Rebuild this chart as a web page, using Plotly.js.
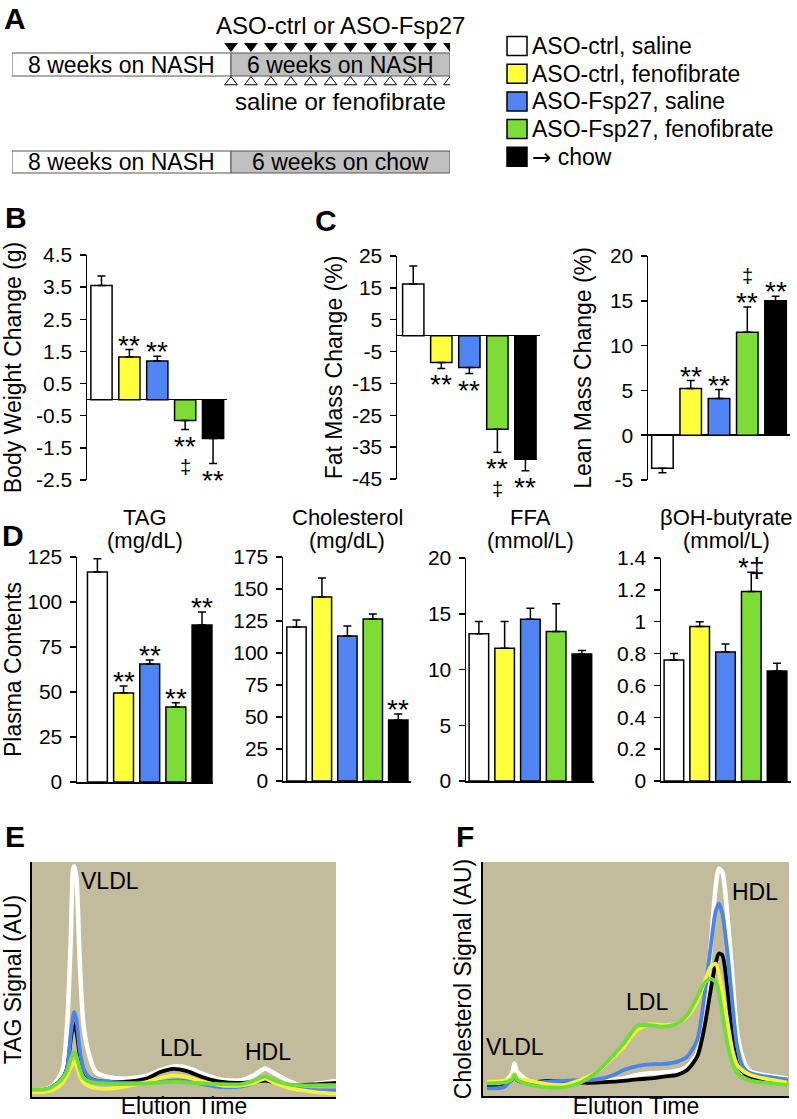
<!DOCTYPE html>
<html><head><meta charset="utf-8">
<script src="https://cdn.plot.ly/plotly-3.0.1.min.js"></script>
<style>html,body{margin:0;padding:0;background:#fff}#chart{width:797px;height:1119px}</style>
</head><body><div id="chart"></div>
<script>
// ---------- DATA ----------
const groups = ['ASO-ctrl, saline', 'ASO-ctrl, fenofibrate', 'ASO-Fsp27, saline', 'ASO-Fsp27, fenofibrate', '<span style="font-family:DejaVu Sans">\u2192</span> chow'];
const barColors = ['#ffffff', '#ffff3c', '#4f84f2', '#7ddc36', '#000000'];
const lineColors = ['#ffffff', '#f4f23a', '#4a86e8', '#6fdc3a', '#000000'];

// Panel A schematic
const stageRow1 = ['8 weeks on NASH', '6 weeks on NASH'];
const stageRow2 = ['8 weeks on NASH', '6 weeks on chow'];
const injectionCount = 12;
const injectionTop = 'ASO-ctrl or ASO-Fsp27';
const injectionBottom = 'saline or fenofibrate';

// Panel B
const bodyWeight = [3.55, 1.33, 1.2, -0.65, -1.21];
const bodyWeightErr = [0.3, 0.23, 0.15, 0.28, 0.78];
const bodyWeightSig = ['', '**', '**', '**', '**'];
const bodyWeightDag = ['', '', '', '\u2021', ''];
const bodyWeightTicks = [4.5, 3.5, 2.5, 1.5, 0.5, -0.5, -1.5, -2.5];

// Panel C
const fatMass = [16.2, -8.4, -10.0, -29.4, -38.8];
const fatMassErr = [5.7, 1.9, 1.9, 7.2, 3.6];
const fatMassSig = ['', '**', '**', '**', '**'];
const fatMassDag = ['', '', '', '\u2021', ''];
const fatMassTicks = [25, 15, 5, -5, -15, -25, -35, -45];

const leanMass = [-3.7, 5.2, 4.1, 11.5, 15.0];
const leanMassErr = [0.5, 0.9, 1.0, 2.8, 0.5];
const leanMassSig = ['', '**', '**', '**', '**'];
const leanMassDag = ['', '', '', '\u2021', ''];
const leanMassTicks = [20, 15, 10, 5, 0, -5];

// Panel D
const plasmaNames = ['TAG', 'Cholesterol', 'FFA', '\u03b2OH-butyrate'];
const plasmaUnits = ['(mg/dL)', '(mg/dL)', '(mmol/L)', '(mmol/L)'];
const tag = [116.7, 49.4, 65.5, 41.7, 87.2];
const tagErr = [7.3, 3.9, 2.3, 2.3, 7.2];
const tagSig = ['', '**', '**', '**', '**'];
const tagTicks = [0, 25, 50, 75, 100, 125];
const chol = [120.3, 143.8, 113.3, 126.6, 47.6];
const cholErr = [5.5, 14.8, 7.7, 3.9, 4.7];
const cholSig = ['', '', '', '', '**'];
const cholTicks = [0, 25, 50, 75, 100, 125, 150, 175];
const ffa = [13.2, 11.9, 14.5, 13.4, 11.4];
const ffaErr = [1.1, 2.4, 1.0, 2.5, 0.3];
const ffaSig = ['', '', '', '', ''];
const ffaTicks = [0, 5, 10, 15, 20];
const bohb = [0.76, 0.97, 0.81, 1.19, 0.69];
const bohbErr = [0.04, 0.03, 0.05, 0.12, 0.05];
const bohbSig = ['', '', '', '*\u2021', ''];
const bohbTicks = [0, 0.2, 0.4, 0.6, 0.8, 1, 1.2, 1.4];

// Panel E: TAG FPLC profiles (elution fraction 0-1, signal AU 0-100)
const tagElution = [0, 0.04, 0.07, 0.1, 0.115, 0.127, 0.135, 0.139, 0.146, 0.157, 0.17, 0.19, 0.21, 0.25, 0.31, 0.38, 0.42, 0.465, 0.51, 0.56, 0.62, 0.69, 0.73, 0.767, 0.79, 0.84, 0.88, 0.94, 1.0];
const tagWhite  = [2.8, 3.1, 5.0, 11.3, 29.8, 65, 96.5, 98.2, 93.6, 58, 30, 17, 10.6, 8.5, 7.8, 9.2, 11.3, 13.0, 12.5, 9.9, 7.4, 7.1, 9.2, 12.1, 10.6, 7.1, 5.0, 5.7, 6.8];
const tagYellow = [2.0, 2.2, 3.0, 6.0, 9.0, 12.5, 14.5, 14.9, 13.5, 9.0, 6.0, 4.5, 3.8, 3.5, 4.5, 6.5, 8.0, 9.2, 8.5, 6.5, 5.0, 5.0, 6.0, 7.8, 6.5, 4.0, 3.0, 2.0, 1.4];
const tagBlue   = [2.8, 3.0, 4.5, 8.0, 12, 26, 34, 36.2, 33, 20, 12, 8.0, 7.0, 6.5, 6.0, 6.2, 6.5, 7.0, 6.8, 5.5, 4.2, 4.5, 6.0, 8.5, 7.0, 4.5, 3.5, 2.8, 2.8];
const tagGreen  = [3.0, 3.2, 4.5, 8.0, 11, 16, 18.5, 19.1, 17.5, 12, 8.0, 6.5, 6.0, 5.7, 5.5, 5.8, 6.2, 6.4, 6.2, 5.8, 5.5, 5.5, 7.0, 8.8, 7.5, 5.5, 5.0, 5.0, 5.0];
const tagBlack  = [2.8, 3.0, 4.5, 8.0, 12, 24, 30, 31.2, 28, 18, 11, 8.0, 7.0, 6.5, 6.5, 8.0, 10.5, 12, 11, 8.5, 6.5, 6.0, 6.5, 7.0, 6.5, 5.0, 5.0, 5.5, 6.0];
const tagPeaks = ['VLDL', 'LDL', 'HDL'];
const tagPeakX = [0.257, 0.49, 0.776];
const tagPeakY = [92, 21, 19];

// Panel F: cholesterol FPLC profiles
const cholElution = [0.013, 0.068, 0.095, 0.103, 0.111, 0.155, 0.209, 0.264, 0.318, 0.373, 0.427, 0.46, 0.504, 0.547, 0.591, 0.635, 0.667, 0.7, 0.722, 0.744, 0.76, 0.771, 0.782, 0.798, 0.815, 0.831, 0.853, 0.875, 0.918, 0.995];
const cholWhite  = [5.4, 5.7, 9.7, 13.9, 10.4, 6.1, 6.1, 6.1, 6.4, 6.5, 7.1, 7.5, 9.0, 9.7, 10.0, 10.8, 12.5, 18.2, 32.4, 63.7, 89, 97.2, 95.7, 78, 51, 26.7, 14.7, 10.4, 9.0, 7.5];
const cholYellow = [6.1, 6.5, 8.0, 9.7, 7.5, 6.5, 5.1, 4.7, 6.8, 10.4, 16.8, 21, 28.2, 30.7, 30.3, 31, 33.9, 40.3, 48.1, 55.2, 56.6, 52.3, 45.2, 32.4, 19.6, 13.2, 10.4, 9.0, 7.5, 5.7];
const cholBlue   = [3.3, 3.7, 7.5, 9.4, 6.8, 5.4, 6.1, 6.5, 6.8, 7.1, 9.0, 11.1, 12.8, 13.5, 13.7, 14.7, 16.8, 23.9, 41, 63.7, 78.7, 82.2, 78, 62.3, 39.5, 21, 11.8, 9.7, 8.5, 7.1];
const cholGreen  = [5.4, 5.7, 7.1, 9.0, 7.1, 4.7, 3.7, 3.7, 5.7, 10.4, 17.5, 22.5, 29.9, 30.3, 29.6, 31, 34.6, 42.4, 48.1, 50.2, 48.8, 43.8, 35.3, 22.5, 13.9, 9.7, 7.5, 6.5, 5.7, 4.7];
const cholBlack  = [4.7, 5.1, 7.1, 9.0, 6.8, 5.7, 6.5, 6.1, 5.7, 5.7, 6.1, 6.5, 7.1, 7.5, 8.3, 9.0, 11.1, 16.8, 28.2, 45.2, 56.6, 60.9, 60.2, 46.7, 25.3, 13.9, 9.7, 8.3, 7.1, 6.5];
const cholPeaks = ['VLDL', 'LDL', 'HDL'];
const cholPeakX = [0.105, 0.536, 0.889];
const cholPeakY = [21, 40, 87];

// ---------- LAYOUT HELPERS ----------
const W = 797, H = 1119;
const FONT = 'Liberation Sans, Arial, Helvetica, sans-serif';
const dx = (a, b) => [a / W, b / W];
const dy = (top, bottom) => [1 - bottom / H, 1 - top / H];
const cats = [0, 1, 2, 3, 4];

const data = [];
const layout = {
  width: W, height: H,
  margin: {l: 0, r: 0, t: 0, b: 0},
  paper_bgcolor: '#ffffff', plot_bgcolor: 'rgba(0,0,0,0)',
  showlegend: false,
  font: {family: FONT, color: '#000', size: 21},
  annotations: [], shapes: []
};

const barPanels = [
  {id: '',  vals: bodyWeight, err: bodyWeightErr, sig: bodyWeightSig, dag: bodyWeightDag, ticks: bodyWeightTicks,
   xd: [87, 227], xr: [-0.52, 4.5], yd: [255, 480], title: 'Body Weight Change (g)', standoff: 12, zero: true},
  {id: '2', vals: fatMass, err: fatMassErr, sig: fatMassSig, dag: fatMassDag, ticks: fatMassTicks,
   xd: [397, 540], xr: [-0.58, 4.52], yd: [256, 479], title: 'Fat Mass Change (%)', standoff: 3, zero: true},
  {id: '3', vals: leanMass, err: leanMassErr, sig: leanMassSig, dag: leanMassDag, ticks: leanMassTicks,
   xd: [648, 790], xr: [-0.51, 4.51], yd: [256, 480], title: 'Lean Mass Change (%)', standoff: 12, zero: true},
  {id: '4', vals: tag, err: tagErr, sig: tagSig, ticks: tagTicks,
   xd: [77, 213], xr: [-0.78, 4.42], yd: [557, 782], title: 'Plasma Contents', standoff: 6, zero: false, d: 0},
  {id: '5', vals: chol, err: cholErr, sig: cholSig, ticks: cholTicks,
   xd: [283, 411], xr: [-0.53, 4.5], yd: [557, 781], title: '', zero: false, d: 1},
  {id: '6', vals: ffa, err: ffaErr, sig: ffaSig, ticks: ffaTicks,
   xd: [466, 594], xr: [-0.5, 4.47], yd: [558, 781], title: '', zero: false, d: 2},
  {id: '7', vals: bohb, err: bohbErr, sig: bohbSig, ticks: bohbTicks,
   xd: [661, 791], xr: [-0.5, 4.54], yd: [558, 781], title: '', zero: false, d: 3}
];

barPanels.forEach(p => {
  const xa = 'x' + p.id, ya = 'y' + p.id;
  const up = p.vals.map((v, i) => v >= 0 ? p.err[i] : 0);
  const dn = p.vals.map((v, i) => v < 0 ? p.err[i] : 0);
  data.push({
    type: 'bar', x: cats, y: p.vals, xaxis: xa, yaxis: ya, width: 0.76,
    marker: {color: barColors, line: {color: '#000', width: 1.5}},
    error_y: {type: 'data', symmetric: false, array: up, arrayminus: dn, color: '#000', thickness: 1.5, width: 4},
    hoverinfo: 'skip'
  });
  const tmin = Math.min(...p.ticks), tmax = Math.max(...p.ticks);
  layout['xaxis' + p.id] = {
    domain: dx(p.xd[0], p.xd[1]), range: p.xr, anchor: ya,
    showline: p.zero ? false : true, linecolor: '#000', linewidth: 1.5,
    showticklabels: false, ticks: '', showgrid: false, zeroline: false, fixedrange: true, automargin: false
  };
  layout['yaxis' + p.id] = {
    domain: dy(p.yd[0], p.yd[1]), range: [tmin, tmax], anchor: xa,
    showline: true, linecolor: '#000', linewidth: 1.5,
    ticks: 'outside', ticklen: 6, tickwidth: 1.5, tickcolor: '#000',
    tickvals: p.ticks, ticktext: p.ticks.map(t => String(t)),
    tickfont: {size: 21, family: FONT}, ticklabelstandoff: 3,
    showgrid: false, zeroline: p.zero, zerolinecolor: '#000', zerolinewidth: 1.5,
    fixedrange: true, automargin: false,
    title: {text: p.title, font: {size: 23, family: FONT}, standoff: p.standoff || 10}
  };
  p.sig.forEach((s, i) => {
    if (!s) return;
    const v = p.vals[i];
    const end = v >= 0 ? v + p.err[i] : v - p.err[i];
    layout.annotations.push({
      xref: xa, yref: ya, x: i, y: end, text: s, showarrow: false,
      yanchor: v >= 0 ? 'bottom' : 'top', yshift: v >= 0 ? -13 : 1,
      font: {size: 28, family: FONT}
    });
    if (p.dag && p.dag[i]) {
      layout.annotations.push({
        xref: xa, yref: ya, x: i, y: end, text: p.dag[i], showarrow: false,
        yanchor: v >= 0 ? 'bottom' : 'top', yshift: v >= 0 ? 18 : -24,
        font: {size: 20, family: FONT}
      });
    }
  });
  if (p.d !== undefined) {
    const cx = (p.xd[0] + p.xd[1]) / 2 / W;
    layout.annotations.push({xref: 'paper', yref: 'paper', x: cx, y: 1 - 517 / H, text: plasmaNames[p.d],
      showarrow: false, xanchor: 'center', yanchor: 'middle', font: {size: 22, family: FONT}});
    layout.annotations.push({xref: 'paper', yref: 'paper', x: cx, y: 1 - 540 / H, text: plasmaUnits[p.d],
      showarrow: false, xanchor: 'center', yanchor: 'middle', font: {size: 22, family: FONT}});
  }
});

// ---------- Elution profiles E and F ----------
const profilePanels = [
  {id: '8', x: tagElution, series: [tagWhite, tagBlack, tagBlue, tagYellow, tagGreen], order: [0, 4, 2, 1, 3],
   xd: [32, 336], yd: [862, 1097], title: 'TAG Signal (AU)', peaks: tagPeaks, px: tagPeakX, py: tagPeakY},
  {id: '9', x: cholElution, series: [cholWhite, cholBlack, cholBlue, cholYellow, cholGreen], order: [0, 4, 2, 1, 3],
   xd: [483, 789], yd: [862, 1096], title: 'Cholesterol Signal (AU)', peaks: cholPeaks, px: cholPeakX, py: cholPeakY}
];
profilePanels.forEach(p => {
  const xa = 'x' + p.id, ya = 'y' + p.id;
  p.series.forEach((s, k) => {
    const c = lineColors[p.order[k]];
    data.push({type: 'scatter', mode: 'lines', x: p.x, y: s, xaxis: xa, yaxis: ya,
      line: {color: c, width: p.order[k] === 0 ? 4.5 : 3.8, shape: 'spline', smoothing: 0.7}, hoverinfo: 'skip'});
  });
  layout['xaxis' + p.id] = {domain: dx(p.xd[0], p.xd[1]), range: [0, 1], anchor: ya,
    showline: true, linecolor: '#000', linewidth: 2, ticks: '', showticklabels: false, showgrid: false, zeroline: false,
    fixedrange: true, automargin: false,
    title: {text: 'Elution Time', font: {size: 23, family: FONT}, standoff: 5}};
  layout['yaxis' + p.id] = {domain: dy(p.yd[0], p.yd[1]), range: [0, 100], anchor: xa,
    showline: true, linecolor: '#000', linewidth: 2, ticks: '', showticklabels: false, showgrid: false, zeroline: false,
    fixedrange: true, automargin: false,
    title: {text: p.title, font: {size: 23, family: FONT}, standoff: 3}};
  layout.shapes.push({type: 'rect', xref: xa + ' domain', yref: ya + ' domain', x0: 0, x1: 1, y0: 0, y1: 1,
    fillcolor: '#c3bc9c', line: {width: 0}, layer: 'below'});
  p.peaks.forEach((t, i) => layout.annotations.push({xref: xa, yref: ya, x: p.px[i], y: p.py[i], text: t,
    showarrow: false, xanchor: 'center', yanchor: 'middle', font: {size: 23, family: FONT}}));
});

// ---------- Panel A schematic ----------
layout.xaxis10 = {domain: dx(12, 450), range: [0, 2], visible: false, fixedrange: true, anchor: 'y10'};
layout.yaxis10 = {domain: dy(0, 190), range: [190, 0], visible: false, fixedrange: true, anchor: 'x10'};
const rows = [{labels: stageRow1, y0: 53, y1: 76}, {labels: stageRow2, y0: 151, y1: 173}];
const stageFill = ['#ffffff', '#c0c0c0'];
rows.forEach(r => {
  r.labels.forEach((lab, s) => {
    layout.shapes.push({type: 'rect', xref: 'x10', yref: 'y10', x0: s, x1: s + 1, y0: r.y0, y1: r.y1,
      fillcolor: stageFill[s], line: {color: '#555', width: 1}, layer: 'below'});
    layout.annotations.push({xref: 'x10', yref: 'y10', x: s + 0.5, y: (r.y0 + r.y1) / 2, text: lab, showarrow: false,
      xanchor: 'center', yanchor: 'middle', font: {size: 23, family: FONT}});
  });
});
const doses = [];
for (let k = 0; k < injectionCount; k++) doses.push(1 + k / (injectionCount - 1));
data.push({type: 'scatter', mode: 'markers', x: doses, y: doses.map(() => 46), xaxis: 'x10', yaxis: 'y10',
  marker: {symbol: 'triangle-down', size: 12, color: '#000'}, hoverinfo: 'skip'});
data.push({type: 'scatter', mode: 'markers', x: doses, y: doses.map(() => 82), xaxis: 'x10', yaxis: 'y10',
  marker: {symbol: 'triangle-up-open', size: 11, color: '#000', line: {width: 1}}, hoverinfo: 'skip'});
layout.annotations.push({xref: 'x10', yref: 'y10', x: 1.5, y: 25, text: injectionTop, showarrow: false,
  xanchor: 'center', yanchor: 'middle', font: {size: 24, family: FONT}});
layout.annotations.push({xref: 'x10', yref: 'y10', x: 1.5, y: 101, text: injectionBottom, showarrow: false,
  xanchor: 'center', yanchor: 'middle', font: {size: 24, family: FONT}});

// Legend (custom swatches)
groups.forEach((g, i) => {
  const cy = 46 + i * 27.7;
  layout.shapes.push({type: 'rect', xref: 'paper', yref: 'paper', x0: 507 / W, x1: 527 / W,
    y0: 1 - (cy + 9.5) / H, y1: 1 - (cy - 9.5) / H, fillcolor: barColors[i], line: {color: '#000', width: 1.5}});
  layout.annotations.push({xref: 'paper', yref: 'paper', x: 530 / W, y: 1 - cy / H, text: g, showarrow: false,
    xanchor: 'left', yanchor: 'middle', font: {size: 23, family: FONT}});
});

// Panel letters
const letters = [['A', 15, 18], ['B', 16, 218], ['C', 326, 221], ['D', 13, 536], ['E', 15, 836], ['F', 465, 836]];
letters.forEach(([t, x, y]) => layout.annotations.push({xref: 'paper', yref: 'paper', x: x / W, y: 1 - y / H,
  text: '<b>' + t + '</b>', showarrow: false, xanchor: 'center', yanchor: 'middle', font: {size: 30, family: FONT}}));

Plotly.newPlot('chart', data, layout, {staticPlot: true, displayModeBar: false});
</script></body></html>
